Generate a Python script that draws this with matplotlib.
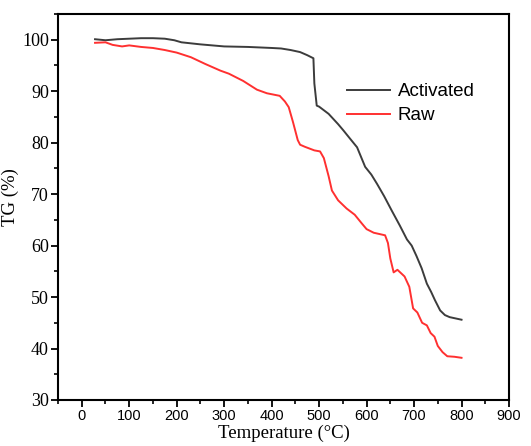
import matplotlib
matplotlib.use("Agg")
import matplotlib.pyplot as plt
from matplotlib.ticker import MultipleLocator

# Activated sample
t_act = [28, 50, 75, 100, 125, 150, 175, 195, 210, 250, 300, 350, 400, 420, 440,
         460, 475, 488, 490, 495, 500, 520, 540, 551, 565, 580, 597, 610, 622, 637,
         653, 670, 685, 695, 705, 716, 727, 736, 744, 755, 765, 775, 785, 800]
tg_act = [100.1, 99.9, 100.1, 100.2, 100.3, 100.3, 100.2, 99.9, 99.5, 99.1, 98.7,
          98.6, 98.4, 98.3, 98.0, 97.6, 97.0, 96.4, 91.5, 87.2, 87.0, 85.6, 83.6,
          82.4, 80.8, 79.1, 75.3, 73.8, 72.0, 69.6, 66.8, 63.9, 61.2, 60.0, 58.0,
          55.6, 52.6, 51.0, 49.4, 47.4, 46.5, 46.1, 45.9, 45.6]

# Raw sample
t_raw = [28, 50, 65, 85, 100, 125, 150, 175, 200, 230, 260, 292, 310, 340, 369,
         390, 417, 428, 436, 445, 455, 460, 470, 490, 502, 510, 520, 527, 540, 558,
         575, 590, 600, 615, 639, 645, 650, 657, 665, 680, 690, 698, 707, 717, 727,
         735, 743, 750, 760, 770, 785, 800]
tg_raw = [99.4, 99.5, 99.0, 98.7, 98.9, 98.6, 98.4, 98.0, 97.5, 96.6, 95.3, 94.0,
          93.4, 92.0, 90.3, 89.6, 89.1, 88.0, 86.9, 84.0, 80.5, 79.6, 79.2, 78.5,
          78.3, 77.0, 73.5, 70.7, 68.8, 67.2, 66.0, 64.3, 63.2, 62.5, 62.0, 60.5,
          57.5, 54.8, 55.3, 54.0, 52.0, 47.8, 47.0, 45.0, 44.5, 43.0, 42.3, 40.5,
          39.3, 38.5, 38.4, 38.2]

fig = plt.figure(figsize=(5.31, 4.46), dpi=100)
ax = fig.add_axes([58 / 531, 1 - 400 / 446, 451 / 531, 386 / 446])

ax.plot(t_act, tg_act, color="#3c3c3c", lw=1.4, label="Activated")
ax.plot(t_raw, tg_raw, color="#ff3030", lw=1.4, label="Raw")

ax.set_xlim(-50, 900)
ax.set_ylim(30, 105)
ax.xaxis.set_major_locator(MultipleLocator(100))
ax.xaxis.set_minor_locator(MultipleLocator(50))
ax.yaxis.set_major_locator(MultipleLocator(10))
ax.yaxis.set_minor_locator(MultipleLocator(5))
ax.set_yticks([30, 40, 50, 60, 70, 80, 90, 100])
ax.tick_params(which="major", direction="out", length=5, width=1.3)
ax.tick_params(which="minor", direction="out", length=3, width=1.2)
ax.tick_params(axis="y", pad=1.5)
ax.tick_params(axis="x", pad=1.5)
ax.tick_params(top=False, right=False, which="both")
for s in ax.spines.values():
    s.set_linewidth(1.5)

for lab in ax.get_xticklabels():
    lab.set_fontfamily("Liberation Sans")
    lab.set_fontsize(10.5)
for lab in ax.get_yticklabels():
    lab.set_fontfamily("Liberation Serif")
    lab.set_fontsize(13)

ax.set_xlabel("Temperature (°C)", family="Liberation Serif", fontsize=13.5)
ax.set_ylabel("TG (%)", family="Liberation Serif", fontsize=13.5)
ax.xaxis.set_label_coords(0.5, -0.064)
ax.yaxis.set_label_coords(-0.087, 0.526)

ax.legend(loc="upper left", bbox_to_anchor=(0.641, 0.821), frameon=False,
          borderpad=0, borderaxespad=0, handlelength=2.3, handletextpad=0.4,
          labelspacing=0.38, prop={"family": "Liberation Sans", "size": 13.5})

fig.savefig("out.png", dpi=100)
